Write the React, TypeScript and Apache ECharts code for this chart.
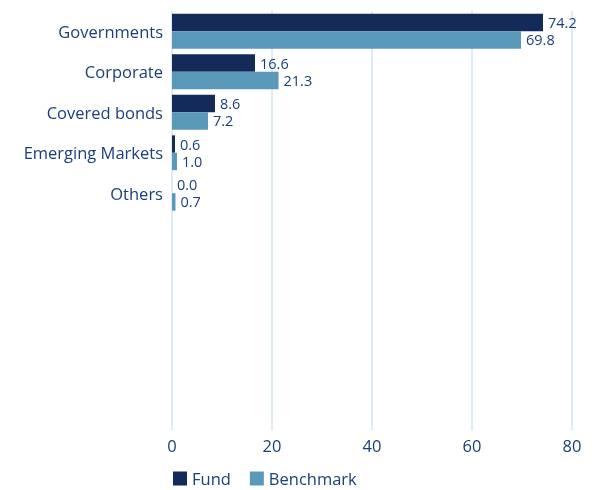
import React, { useEffect, useRef } from "react";
import * as echarts from "echarts";

const categories = ["Governments", "Corporate", "Covered bonds", "Emerging Markets", "Others", "", " ", "  ", "   ", "    "];
const fundValues: (number | null)[] = [74.2, 16.6, 8.6, 0.6, 0.0, null, null, null, null, null];
const benchmarkValues: (number | null)[] = [69.8, 21.3, 7.2, 1.0, 0.7, null, null, null, null, null];
const seriesNames = ["Fund", "Benchmark"];

const TEXT = "#1b3e7c";
const GRIDC = "#d2e7ef";
const FONT = "'Open Sans', Lato, sans-serif";

export default function App() {
  const ref = useRef<HTMLDivElement>(null);
  useEffect(() => {
    if (!ref.current) return;
    const chart = echarts.init(ref.current, undefined, { renderer: "svg" });
    const label = {
      show: true,
      position: "right",
      distance: 5,
      color: TEXT,
      fontSize: 14.5,
      lineHeight: 15,
      fontFamily: FONT,
      formatter: (p: any) => (p.value == null ? "" : Number(p.value).toFixed(1)),
    };
    chart.setOption({
      animation: false,
      textStyle: { fontFamily: FONT },
      grid: { left: 172, right: 21, top: 11, height: 405, containLabel: false },
      xAxis: {
        type: "value",
        min: 0,
        max: 80,
        interval: 20,
        axisLine: { show: false },
        axisTick: { show: true, length: 14, lineStyle: { color: GRIDC, width: 1.5 } },
        splitLine: { show: true, lineStyle: { color: GRIDC, width: 1.5 } },
        axisLabel: { color: TEXT, fontSize: 16.5, margin: 21, fontFamily: FONT },
      },
      yAxis: {
        type: "category",
        inverse: true,
        data: categories,
        axisLine: { show: false },
        axisTick: { show: false },
        axisLabel: { color: TEXT, fontSize: 16.5, margin: 9, fontFamily: FONT },
      },
      legend: {
        left: 173,
        top: 470,
        padding: 0,
        icon: "rect",
        itemWidth: 14,
        itemHeight: 14,
        itemGap: 19,
        textStyle: { color: TEXT, fontSize: 16.5, lineHeight: 16, fontFamily: FONT },
        data: seriesNames,
      },
      series: [
        {
          name: seriesNames[0],
          type: "bar",
          data: fundValues,
          itemStyle: { color: "#142a58" },
          barGap: "0%",
          barCategoryGap: "14%",
          label,
        },
        {
          name: seriesNames[1],
          type: "bar",
          data: benchmarkValues,
          itemStyle: { color: "#5a99b9" },
          barGap: "0%",
          barCategoryGap: "14%",
          label,
        },
      ],
    });
    return () => chart.dispose();
  }, []);
  return <div ref={ref} style={{ position: "fixed", left: 0, top: 0, width: 593, height: 490 }} />;
}
